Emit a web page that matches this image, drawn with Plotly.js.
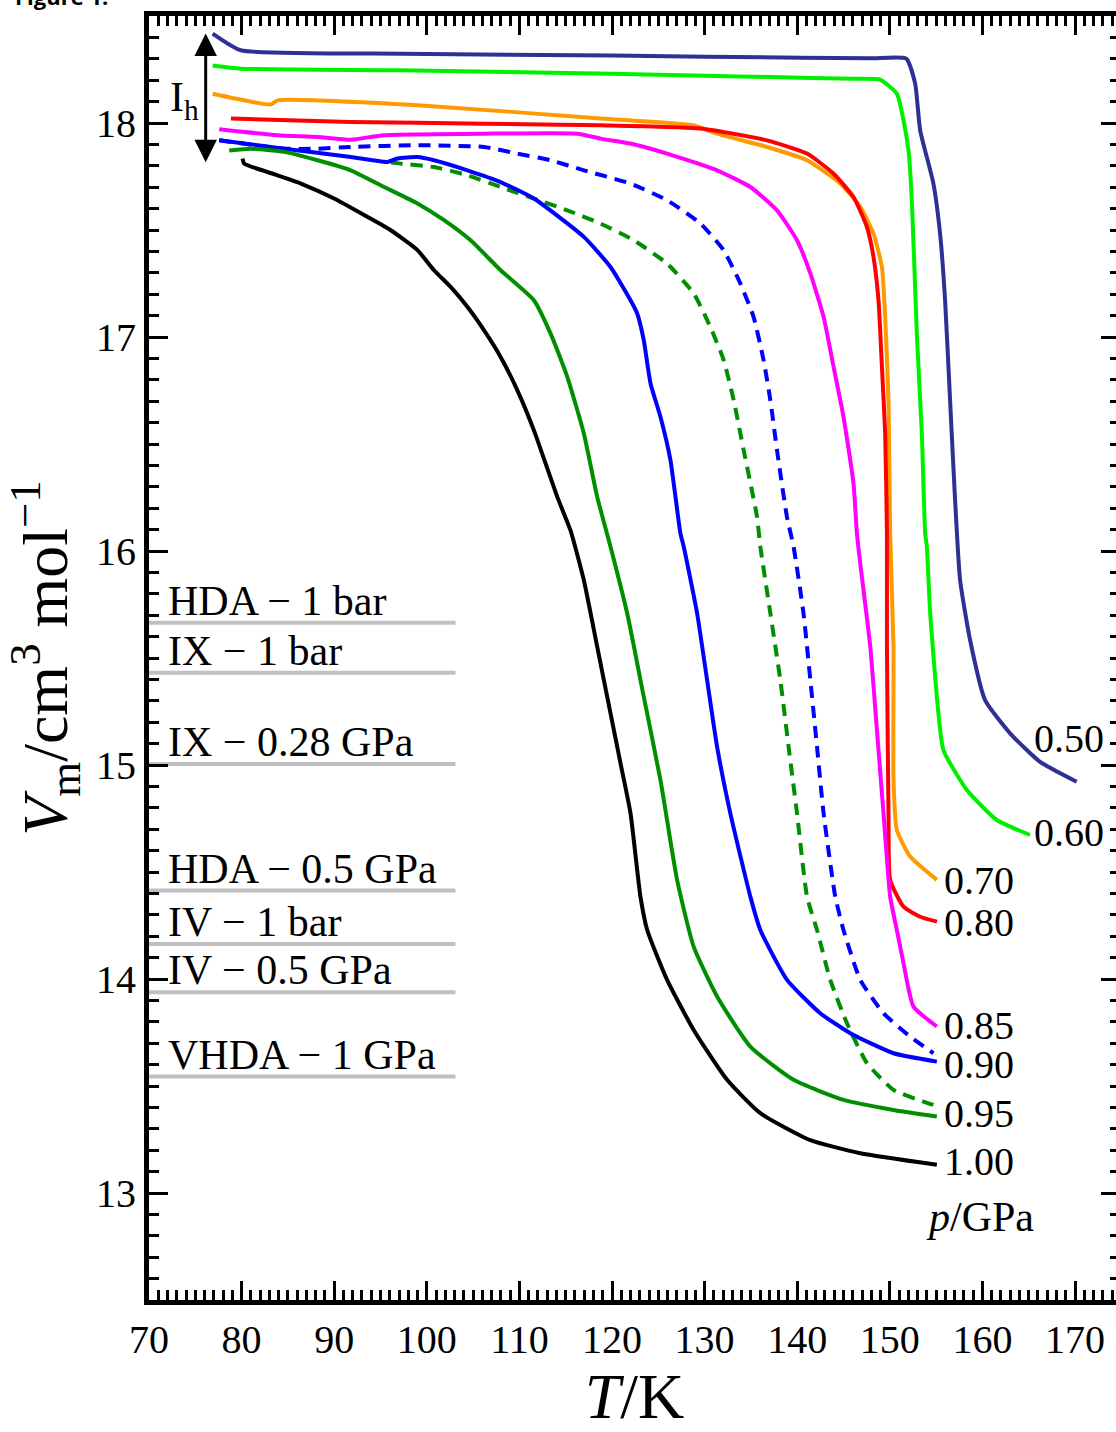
<!DOCTYPE html>
<html><head><meta charset="utf-8">
<script src="https://cdn.plot.ly/plotly-3.0.1.min.js"></script>
<style>html,body{margin:0;padding:0;overflow:hidden;background:#fff}#chart{width:1124px;height:1432px}</style>
</head><body><div id="chart"></div><script>
// ---- data (T in K, Vm in cm^3/mol) ----
const pressures = ["0.50","0.60","0.70","0.80","0.85","0.90","0.90","0.95","0.95","1.00"];
const t050=[76.87,79.92,97.18,120.0,140.33,148.0,151.77,152.74,153.28,154.71,155.43,155.97,156.51,157.05,157.59,158.67,160.29,162.99,166.22,170.18];
const v050=[18.418,18.340,18.324,18.315,18.305,18.302,18.301,18.184,17.966,17.717,17.483,17.172,16.705,16.238,15.864,15.584,15.303,15.148,15.015,14.922];
const t060=[76.87,79.92,97.18,120.0,140.33,146.0,148.96,150.76,151.48,152.02,152.38,152.92,153.46,153.82,154.00,154.36,155.08,155.79,158.32,161.55,165.14];
const v060=[18.269,18.254,18.246,18.230,18.212,18.207,18.203,18.137,18.013,17.872,17.639,17.016,16.549,16.082,16.020,15.709,15.319,15.070,14.883,14.743,14.673];
const t070=[76.87,83.16,83.88,98.99,118.76,128.82,131.35,136.74,141.06,144.66,146.81,148.24,149.15,149.50,149.86,150.04,150.40,150.40,150.76,152.20,155.08];
const v070=[18.137,18.087,18.106,18.083,18.021,17.989,17.950,17.888,17.826,17.717,17.608,17.483,17.327,17.094,16.705,16.082,15.553,14.930,14.696,14.572,14.463];
const t080=[78.85,91.79,106.17,118.76,129.55,136.74,141.06,143.93,146.08,147.53,148.24,148.78,149.15,149.50,149.69,149.69,149.86,150.04,151.48,153.28,155.10];
const v080=[18.021,18.005,17.997,17.989,17.974,17.919,17.857,17.763,17.654,17.514,17.374,17.172,16.860,16.549,16.082,15.553,14.774,14.463,14.338,14.291,14.268];
const t085=[77.58,83.88,88.20,91.79,95.38,106.17,116.25,118.76,121.99,125.95,131.34,134.94,137.82,139.98,141.42,142.85,143.93,145.00,146.08,146.45,146.81,147.89,148.61,149.32,150.04,150.76,151.48,152.56,155.08];
const v085=[17.971,17.943,17.935,17.922,17.943,17.950,17.950,17.927,17.904,17.857,17.779,17.701,17.592,17.452,17.297,17.094,16.860,16.627,16.316,16.082,15.942,15.553,15.163,14.774,14.385,14.229,14.074,13.871,13.778];
const t090=[77.58,84.60,91.79,95.75,96.83,98.99,100.78,104.38,107.97,111.56,116.96,119.84,122.00,122.72,123.43,124.16,125.23,126.31,127.39,127.75,129.19,130.27,131.35,132.78,134.94,136.02,138.90,142.49,145.73,150.40,155.08];
const v090=[17.919,17.880,17.841,17.818,17.834,17.841,17.826,17.779,17.724,17.647,17.468,17.327,17.172,17.110,16.985,16.783,16.627,16.425,16.082,16.020,15.709,15.397,15.085,14.774,14.385,14.229,13.996,13.840,13.747,13.653,13.614];
const t090d=[77.58,84.60,88.20,91.79,98.99,106.17,109.77,113.37,116.96,121.99,125.95,129.55,132.06,133.86,135.29,136.37,137.10,137.82,138.89,139.61,140.68,141.42,142.14,142.85,144.11,145.00,146.81,149.32,152.20,154.71];
const v090d=[17.919,17.880,17.880,17.888,17.896,17.888,17.857,17.826,17.779,17.717,17.639,17.530,17.405,17.250,17.094,16.892,16.705,16.471,16.160,16.020,15.709,15.397,15.085,14.774,14.385,14.229,13.996,13.840,13.731,13.653];
const t095=[78.66,81.00,84.60,88.20,91.79,95.38,98.99,101.86,104.73,107.97,111.56,113.37,115.17,116.96,118.40,119.84,121.64,123.43,125.23,127.03,128.82,131.35,134.94,139.61,145.00,150.40,155.08];
const v095=[17.872,17.880,17.865,17.826,17.779,17.701,17.624,17.546,17.452,17.312,17.172,17.016,16.814,16.549,16.253,16.020,15.709,15.319,14.930,14.463,14.151,13.918,13.684,13.529,13.435,13.388,13.357];
const t095d=[96.11,97.18,100.78,104.38,107.97,111.56,115.17,118.76,122.36,125.95,128.83,130.62,132.06,133.14,134.22,135.66,136.02,137.10,138.18,139.07,139.98,141.06,142.14,143.57,145.37,147.53,150.40,153.63,155.25];
const v095d=[17.816,17.810,17.794,17.756,17.701,17.647,17.592,17.530,17.452,17.343,17.203,17.047,16.892,16.705,16.471,16.160,16.020,15.709,15.397,15.085,14.774,14.385,14.229,13.996,13.794,13.607,13.482,13.427,13.404];
const t100=[80.11,80.28,82.80,86.40,89.99,93.60,96.11,98.99,100.78,102.58,104.38,106.17,107.97,109.77,111.56,114.09,115.52,116.96,118.40,119.84,120.92,122.00,123.07,123.80,125.95,128.82,132.43,136.02,141.42,146.81,155.08];
const v100=[17.834,17.810,17.771,17.717,17.647,17.561,17.499,17.406,17.312,17.234,17.141,17.032,16.907,16.752,16.565,16.253,16.096,15.863,15.553,15.241,15.008,14.774,14.385,14.229,13.996,13.762,13.529,13.373,13.247,13.186,13.132];

const refLabels=["HDA − 1 bar","IX − 1 bar","IX − 0.28 GPa","HDA − 0.5 GPa","IV − 1 bar","IV − 0.5 GPa","VHDA − 1 GPa"];
const refValues=[15.665,15.431,15.005,14.413,14.163,13.938,13.544];
const refTmin=70, refTmax=103.1;

const xTickVals=[70,80,90,100,110,120,130,140,150,160,170];
const yTickVals=[13,14,15,16,17,18];
// ---- end data ----

const series=[
  {t:t050,v:v050,c:"#2e3192",d:"solid",p:"0.50"},
  {t:t060,v:v060,c:"#00f000",d:"solid",p:"0.60"},
  {t:t070,v:v070,c:"#ff9900",d:"solid",p:"0.70"},
  {t:t080,v:v080,c:"#ff0000",d:"solid",p:"0.80"},
  {t:t085,v:v085,c:"#ff00ff",d:"solid",p:"0.85"},
  {t:t090d,v:v090d,c:"#0000ff",d:"12px,8px",p:null},
  {t:t095d,v:v095d,c:"#008f00",d:"12px,8px",p:null},
  {t:t090,v:v090,c:"#0000ff",d:"solid",p:"0.90"},
  {t:t095,v:v095,c:"#008f00",d:"solid",p:"0.95"},
  {t:t100,v:v100,c:"#000000",d:"solid",p:"1.00"}
];
const FONT="Liberation Serif, Times New Roman, serif";
const traces=[];
refValues.forEach((v,i)=>{
  traces.push({x:[refTmin,refTmax],y:[v,v],mode:"lines",line:{color:"#c0c0c0",width:4},hoverinfo:"skip",showlegend:false});
});
series.forEach(s=>{
  traces.push({x:s.t,y:s.v,mode:"lines",line:{color:s.c,width:4,dash:s.d,shape:"spline",smoothing:0.5},name:s.p||"",showlegend:false});
});

const ann=[];
refLabels.forEach((lab,i)=>{
  ann.push({x:71.8,y:refValues[i],xref:"x",yref:"y",text:lab,showarrow:false,xanchor:"left",yanchor:"bottom",yshift:-3,font:{family:FONT,size:42,color:"#000"}});
});
series.forEach(s=>{
  if(!s.p) return;
  const n=s.t.length;
  let xs=6, ys=0;
  if(s.p==="0.50"){xs=-44;ys=44;}
  if(s.p==="0.60"){xs=3;ys=3;}
  if(s.p==="0.85"){ys=2;}
  if(s.p==="0.90"){ys=-2;}
  if(s.p==="0.95"){ys=4;}
  if(s.p==="1.00"){ys=4;}
  ann.push({x:s.t[n-1],y:s.v[n-1],xref:"x",yref:"y",text:s.p,showarrow:false,xanchor:"left",yanchor:"middle",valign:"middle",height:34,borderpad:0,xshift:xs,yshift:ys,font:{family:FONT,size:40,color:"#000"}});
});
ann.push({x:159.75,y:12.89,xref:"x",yref:"y",text:"<i>p</i>/GPa",showarrow:false,xanchor:"center",yanchor:"middle",font:{family:FONT,size:42,color:"#000"}});
ann.push({x:73.8,y:18.106,xref:"x",yref:"y",text:"I<sub>h</sub>",showarrow:false,xanchor:"center",yanchor:"middle",font:{family:FONT,size:42,color:"#000"}});
ann.push({x:76.12,y:18.418,ax:76.12,ay:17.810,xref:"x",yref:"y",axref:"x",ayref:"y",text:"",showarrow:true,arrowhead:2,startarrowhead:2,arrowside:"end+start",arrowsize:1.5,startarrowsize:1.5,arrowwidth:3,arrowcolor:"#000"});
ann.push({x:0,y:1,xref:"paper",yref:"paper",xanchor:"left",yanchor:"bottom",xshift:-136,yshift:3,text:"<b>Figure 1:</b>",showarrow:false,font:{family:"Open Sans, sans-serif",size:22,color:"#000"}});

const axisCommon={showline:true,linewidth:5,linecolor:"#000",mirror:"ticks",ticks:"inside",tickwidth:3,tickcolor:"#000",showgrid:false,zeroline:false,
  tickfont:{family:FONT,size:40,color:"#000"}};
const layout={
  width:1124,height:1432,
  margin:{l:149,r:4,t:16,b:132},
  paper_bgcolor:"#fff",plot_bgcolor:"#fff",
  showlegend:false,
  xaxis:Object.assign({},axisCommon,{range:[70,174.86],tickmode:"array",tickvals:xTickVals,ticktext:xTickVals.map(String),ticklen:19,
    minor:{dtick:1,tick0:70,ticks:"inside",ticklen:10,tickwidth:3,tickcolor:"#000"},
    title:{text:"<i>T</i>/K",font:{family:FONT,size:64,color:"#000"},standoff:10}}),
  yaxis:Object.assign({},axisCommon,{range:[12.5,18.5],tickmode:"array",tickvals:yTickVals,ticktext:yTickVals.map(String),ticklen:19,
    minor:{dtick:0.1,tick0:12.5,ticks:"inside",ticklen:10,tickwidth:3,tickcolor:"#000"},
    title:{text:"<i>V</i><sub>m</sub>/cm<sup>3</sup> mol<sup>−1</sup>",font:{family:FONT,size:64,color:"#000"},standoff:11}}),
  annotations:ann
};
Plotly.newPlot("chart",traces,layout,{staticPlot:true,displayModeBar:false});
</script></body></html>
